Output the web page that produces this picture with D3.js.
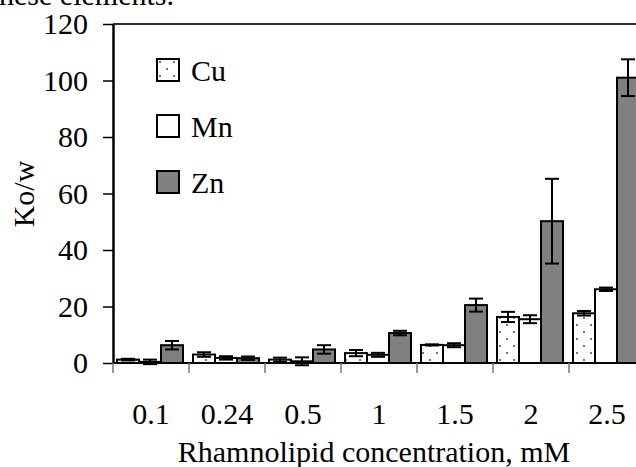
<!DOCTYPE html>
<html lang="en">
<head>
    <meta charset="UTF-8">
    <title>Ko/w bar chart</title>
    <script src="https://d3js.org/d3.v7.min.js"></script>
    <style>
        body { margin: 0; background: #fff; }
        svg { display: block; }
        text { font-family: "Liberation Serif", "Times New Roman", serif; }
    </style>
</head>
<body>
    <svg></svg>
    <script>
        const categories = ["0.1", "0.24", "0.5", "1", "1.5", "2", "2.5"];
        const metals = ["Cu", "Mn", "Zn"];
        const cuValues = [1.2, 3.0, 1.2, 3.5, 6.4, 16.3, 17.6];
        const cuErrors = [0.3, 0.8, 0.7, 1.1, 0.2, 1.8, 0.8];
        const mnValues = [0.4, 1.8, 0.6, 2.9, 6.3, 15.5, 26.1];
        const mnErrors = [0.8, 0.6, 1.4, 0.7, 0.7, 1.4, 0.6];
        const znValues = [6.3, 1.7, 4.8, 10.6, 20.5, 50.2, 101.0];
        const znErrors = [1.5, 0.6, 1.5, 0.8, 2.3, 15.0, 6.5];
        const yTicks = [0, 20, 40, 60, 80, 100, 120];

        const svgWidth = 636;
        const svgHeight = 467;
        const plotLeft = 113, plotTop = 24, plotBottom = 363, plotRight = 645;
        const fontSize = 30;

        const svg = d3.select("svg")
            .attr("width", svgWidth)
            .attr("height", svgHeight);

        // dotted fill for Cu
        const defs = svg.append("defs");
        const pat = defs.append("pattern")
            .attr("id", "dots")
            .attr("patternUnits", "userSpaceOnUse")
            .attr("width", 14).attr("height", 14);
        pat.append("rect").attr("width", 14).attr("height", 14).attr("fill", "#fff");
        pat.append("circle").attr("cx", 3).attr("cy", 3).attr("r", 1.1).attr("fill", "#555");
        pat.append("circle").attr("cx", 10).attr("cy", 10).attr("r", 1.1).attr("fill", "#555");

        const fills = { Cu: "url(#dots)", Mn: "#fff", Zn: "#808080" };

        const series = metals.map((m, k) => {
            const vals = [cuValues, mnValues, znValues][k];
            const errs = [cuErrors, mnErrors, znErrors][k];
            return categories.map((c, i) => ({ metal: m, cat: c, value: vals[i], err: errs[i] }));
        });

        const xScale = d3.scaleBand()
            .domain(categories)
            .range([plotLeft, plotRight]);

        const xInner = d3.scaleBand()
            .domain(metals)
            .range([4, 70]);

        const yScale = d3.scaleLinear()
            .domain([0, 120])
            .range([plotBottom, plotTop]);

        // cut-off text from the page above
        svg.append("text")
            .attr("x", 174).attr("y", 5)
            .attr("text-anchor", "end")
            .attr("font-size", fontSize)
            .text("these elements.");

        // frame top
        svg.append("line")
            .attr("x1", plotLeft).attr("x2", plotRight)
            .attr("y1", plotTop).attr("y2", plotTop)
            .attr("stroke", "#333").attr("stroke-width", 2);

        // bars
        const bars = svg.append("g");
        series.forEach(s => {
            bars.selectAll(null)
                .data(s)
                .enter()
                .append("rect")
                .attr("x", d => xScale(d.cat) + xInner(d.metal))
                .attr("y", d => yScale(d.value))
                .attr("width", xInner.bandwidth())
                .attr("height", d => plotBottom - yScale(d.value))
                .attr("fill", d => fills[d.metal])
                .attr("stroke", "#000")
                .attr("stroke-width", 2);
        });

        // error bars
        const errs = svg.append("g").attr("stroke", "#000").attr("stroke-width", 2);
        series.forEach(s => {
            const g = errs.selectAll(null)
                .data(s)
                .enter()
                .append("g")
                .attr("transform", d => `translate(${xScale(d.cat) + xInner(d.metal) + xInner.bandwidth() / 2},0)`);
            g.append("line")
                .attr("y1", d => yScale(d.value - d.err))
                .attr("y2", d => yScale(d.value + d.err));
            g.append("line")
                .attr("x1", -7).attr("x2", 7)
                .attr("y1", d => yScale(d.value + d.err))
                .attr("y2", d => yScale(d.value + d.err));
            g.append("line")
                .attr("x1", -7).attr("x2", 7)
                .attr("y1", d => yScale(d.value - d.err))
                .attr("y2", d => yScale(d.value - d.err));
        });

        // y axis
        const yAxis = svg.append("g")
            .attr("transform", `translate(${plotLeft},0)`)
            .call(d3.axisLeft(yScale).tickValues(yTicks).tickSize(10).tickSizeOuter(0).tickPadding(15));
        yAxis.select(".domain").attr("stroke", "#000").attr("stroke-width", 2.5);
        yAxis.selectAll(".tick line").attr("stroke", "#000").attr("stroke-width", 1.5);
        yAxis.selectAll(".tick text").attr("font-size", fontSize).attr("font-family", "Liberation Serif").attr("fill", "#000");

        // x axis: line, boundary ticks, centered labels
        svg.append("line")
            .attr("x1", plotLeft).attr("x2", plotRight)
            .attr("y1", plotBottom).attr("y2", plotBottom)
            .attr("stroke", "#000").attr("stroke-width", 2);

        svg.append("g").selectAll("line")
            .data(categories)
            .enter()
            .append("line")
            .attr("x1", d => xScale(d)).attr("x2", d => xScale(d))
            .attr("y1", plotBottom).attr("y2", plotBottom + 10)
            .attr("stroke", "#777").attr("stroke-width", 1.5);

        svg.append("g").selectAll("text")
            .data(categories)
            .enter()
            .append("text")
            .attr("x", d => xScale(d) + xScale.bandwidth() / 2)
            .attr("y", 424)
            .attr("text-anchor", "middle")
            .attr("font-size", fontSize)
            .text(d => d);

        svg.append("text")
            .attr("x", 374).attr("y", 462)
            .attr("text-anchor", "middle")
            .attr("font-size", fontSize)
            .text("Rhamnolipid concentration, mM");

        svg.append("text")
            .attr("transform", "translate(34,194) rotate(-90)")
            .attr("text-anchor", "middle")
            .attr("font-size", fontSize)
            .text("Ko/w");

        // legend
        const legend = svg.append("g").selectAll("g")
            .data(metals)
            .enter()
            .append("g")
            .attr("transform", (d, i) => `translate(157,${59 + i * 56})`);
        legend.append("rect")
            .attr("width", 22).attr("height", 22)
            .attr("fill", d => fills[d])
            .attr("stroke", "#000").attr("stroke-width", 2);
        legend.append("text")
            .attr("x", 34).attr("y", 22)
            .attr("font-size", fontSize)
            .text(d => d);
    </script>
</body>
</html>
